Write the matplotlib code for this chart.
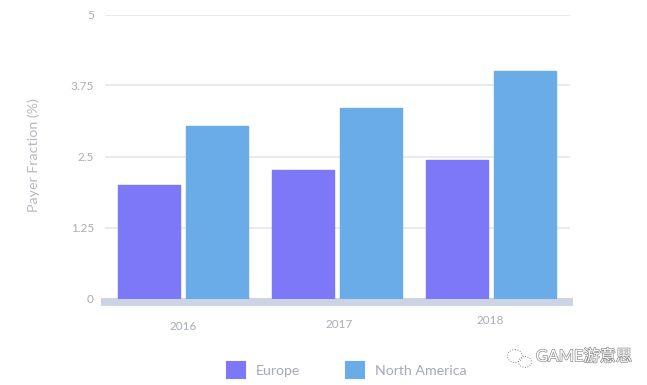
import matplotlib
matplotlib.use("Agg")
import matplotlib.pyplot as plt
import matplotlib.patheffects as pe
from matplotlib.patches import Ellipse, Patch
import numpy as np

years = ["2016", "2017", "2018"]
europe = [2.0, 2.26, 2.44]
north_america = [3.03, 3.36, 4.01]
y_ticks = [0, 1.25, 2.5, 3.75, 5]
y_labels = ["0", "1.25", "2.5", "3.75", "5"]

W, H = 647, 385
GREY = "#a9adb8"
PURPLE = "#7c78f8"
BLUE = "#6aace8"
BASE = "#ccd3e3"

plt.rcParams["font.family"] = ["Lato", "Noto Sans CJK SC", "DejaVu Sans"]

fig = plt.figure(figsize=(W / 100, H / 100), dpi=100)
ax = fig.add_axes([105 / W, 1 - 298.5 / H, 465 / W, 284 / H])

x = np.arange(len(years))
bw = 0.402
off = 0.221

# bars, thin edge with round joins gives the soft corners
b1 = ax.bar(x - off, europe, bw, color=PURPLE, edgecolor=PURPLE, linewidth=1, zorder=3, label="Europe")
b2 = ax.bar(x + off, north_america, bw, color=BLUE, edgecolor=BLUE, linewidth=1, zorder=3, label="North America")
for b in list(b1) + list(b2):
    b.set_joinstyle("round")

ax.set_xlim(-0.506, 2.513)
ax.set_ylim(0, 5)
ax.set_yticks(y_ticks)
ax.set_yticklabels(y_labels, color=GREY, fontsize=8.5)
ax.set_xticks([])
ax.tick_params(axis="y", length=0, pad=8)
ax.grid(axis="y", color="#e2e4e8", linewidth=1.1, zorder=0)
for s in ax.spines.values():
    s.set_visible(False)

# thick base band under the bars
ax.plot([-0.532, 2.535], [-0.07, -0.07], color=BASE, linewidth=5.6, solid_capstyle="butt", clip_on=False, zorder=2)

# year labels sit at slightly different places in the original
year_xpx = [183, 339, 490]
year_ypx = [326, 324, 320]
for i, yr in enumerate(years):
    fig.text(year_xpx[i] / W, 1 - year_ypx[i] / H, yr, color=GREY, fontsize=8.5, ha="center", va="center")

fig.text(34 / W, 1 - 155 / H, "Payer Fraction (%)", color="#b6bac4", fontsize=10.3, rotation=90, ha="center", va="center")

leg = ax.legend(
    handles=[Patch(facecolor=PURPLE, edgecolor=PURPLE, linewidth=1.5, joinstyle="round", label="Europe"),
             Patch(facecolor=BLUE, edgecolor=BLUE, linewidth=1.5, joinstyle="round", label="North America")],
    loc="center", bbox_to_anchor=(346.5 / W, 1 - 370 / H), bbox_transform=fig.transFigure,
    ncols=2, frameon=False, fontsize=10.2, handlelength=1.3, handleheight=1.4,
    handletextpad=0.75, columnspacing=3.2, labelcolor="#a5a9b5",
)

# watermark
wm = fig.text(536 / W, 1 - 357 / H, "GAME游意思", color="white", fontsize=11.7, ha="left", va="center")
wm.set_path_effects([pe.withStroke(linewidth=1.0, foreground="#8f8f8f")])
ov = fig.add_axes([0, 0, 1, 1], facecolor="none")
ov.set_xlim(0, W)
ov.set_ylim(H, 0)
ov.axis("off")
ov.add_patch(Ellipse((515, 356), 15, 13, fill=False, ec="#8a8a8a", lw=0.7, ls=":"))
ov.add_patch(Ellipse((525, 362), 13, 11, fill=False, ec="#8a8a8a", lw=0.7, ls=":"))

fig.savefig("out.png", dpi=100)
